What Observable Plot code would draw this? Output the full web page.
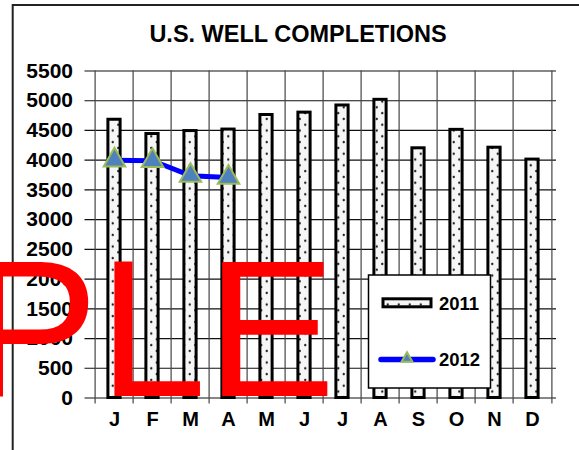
<!DOCTYPE html>
<html>
<head>
<meta charset="utf-8">
<script src="https://cdn.jsdelivr.net/npm/d3@7"></script>
<script src="https://cdn.jsdelivr.net/npm/@observablehq/plot@0.6"></script>
<style>
  html, body { margin: 0; padding: 0; background: white; }
</style>
</head>
<body>
<div id="chart"></div>
<script>
const monthKeys = ["Jan","Feb","Mar","Apr","May","Jun","Jul","Aug","Sep","Oct","Nov","Dec"];
const monthLabels = ["J","F","M","A","M","J","J","A","S","O","N","D"];
const values2011 = [4680, 4440, 4490, 4515, 4760, 4800, 4920, 5015, 4200, 4510, 4210, 4010];
const values2012 = [4000, 3990, 3740, 3710];
const yTicks = [0, 500, 1000, 1500, 2000, 2500, 3000, 3500, 4000, 4500, 5000, 5500];
const seriesNames = ["2011", "2012"];
const titleText = "U.S. WELL COMPLETIONS";
const watermarkText = "PLE";

const data2011 = monthKeys.map((m, i) => ({month: m, value: values2011[i]}));
const data2012 = values2012.map((v, i) => ({month: monthKeys[i], value: v}));

const W = 579, H = 450;
const mL = 90.5, mR = 23, mT = 70.5, mB = 52.5;
const bw = (W - mL - mR) / monthKeys.length;
const inset = (bw - 13) / 2;
const font = "'Liberation Sans', Arial, Helvetica, sans-serif";

const chart = Plot.plot({
  width: W, height: H,
  marginLeft: mL, marginRight: mR, marginTop: mT, marginBottom: mB,
  style: {fontFamily: font, background: "white", color: "black"},
  x: {domain: monthKeys, padding: 0, label: null},
  y: {domain: [0, 5500], label: null},
  marks: [
    Plot.ruleY(yTicks, {stroke: "#111", strokeWidth: 1.2, insetLeft: -6}),
    Plot.ruleX(monthKeys, {x: d => d, dx: -bw / 2, stroke: "#444", strokeWidth: 1.2, insetBottom: -6}),
    Plot.ruleX([monthKeys[monthKeys.length - 1]], {x: d => d, dx: bw / 2, stroke: "#444", strokeWidth: 1.2, insetBottom: -6}),
    Plot.barY(data2011, {x: "month", y: "value", fill: "url(#dots)", stroke: "black", strokeWidth: 3, insetLeft: inset, insetRight: inset}),
    Plot.line(data2012, {x: "month", y: "value", stroke: "#0000FF", strokeWidth: 5}),
    Plot.dot(data2012, {x: "month", y: "value", symbol: "triangle", r: 8, fill: "#4F81BD", stroke: "#9BBB59", strokeWidth: 2}),
    Plot.axisY({ticks: yTicks, tickSize: 0, tickPadding: 18, tickFormat: d => String(d), fontSize: 21, fontWeight: "bold", fill: "black", label: null}),
    Plot.axisX({tickSize: 0, tickPadding: 14, tickFormat: d => monthLabels[monthKeys.indexOf(d)], fontSize: 20, fontWeight: "bold", fill: "black", label: null})
  ]
});

document.getElementById("chart").appendChild(chart);

const svg = d3.select(chart);
const defs = svg.insert("defs", ":first-child");
const pat = defs.append("pattern")
  .attr("id", "dots").attr("patternUnits", "userSpaceOnUse")
  .attr("width", 11).attr("height", 11.6);
pat.append("rect").attr("width", 11).attr("height", 11.6).attr("fill", "#f6f6f6");
pat.append("circle").attr("cx", 2.75).attr("cy", 2.9).attr("r", 1.2).attr("fill", "#222");
pat.append("circle").attr("cx", 8.25).attr("cy", 8.7).attr("r", 1.2).attr("fill", "#222");

// outer frame
svg.append("rect").attr("x", 12.7).attr("y", 5).attr("width", 700).attr("height", 600)
  .attr("fill", "none").attr("stroke", "#222").attr("stroke-width", 2);

// title
svg.append("text").attr("x", 298).attr("y", 42).attr("text-anchor", "middle")
  .attr("font-family", font).attr("font-weight", "bold").attr("font-size", 23.5)
  .attr("fill", "black").text(titleText);

// watermark
svg.append("text").attr("x", 335.7).attr("y", 396).attr("text-anchor", "end")
  .attr("font-family", font).attr("font-weight", "normal").attr("font-size", 194).attr("fill", "#FF0000")
  .text(watermarkText);

// legend
const lg = svg.append("g").attr("text-anchor", "start");
lg.append("rect").attr("x", 368.5).attr("y", 275).attr("width", 122).attr("height", 113)
  .attr("fill", "white").attr("stroke", "black").attr("stroke-width", 1.5);
lg.append("rect").attr("x", 383).attr("y", 298.8).attr("width", 48).attr("height", 8)
  .attr("fill", "url(#dots)").attr("stroke", "black").attr("stroke-width", 3);
lg.append("text").attr("x", 439).attr("y", 309.5).attr("text-anchor", "start").attr("font-family", font)
  .attr("font-weight", "bold").attr("font-size", 18.5).attr("fill", "black").text(seriesNames[0]);
lg.append("line").attr("x1", 381).attr("x2", 433).attr("y1", 359.5).attr("y2", 359.5)
  .attr("stroke", "#0000FF").attr("stroke-width", 5.5).attr("stroke-linecap", "round");
lg.append("path").attr("d", d3.symbol(d3.symbolTriangle, 52)())
  .attr("transform", "translate(407,358.5)")
  .attr("fill", "#4F81BD").attr("stroke", "#9BBB59").attr("stroke-width", 2);
lg.append("text").attr("x", 439).attr("y", 366).attr("text-anchor", "start").attr("font-family", font)
  .attr("font-weight", "bold").attr("font-size", 18.5).attr("fill", "black").text(seriesNames[1]);
</script>
</body>
</html>
